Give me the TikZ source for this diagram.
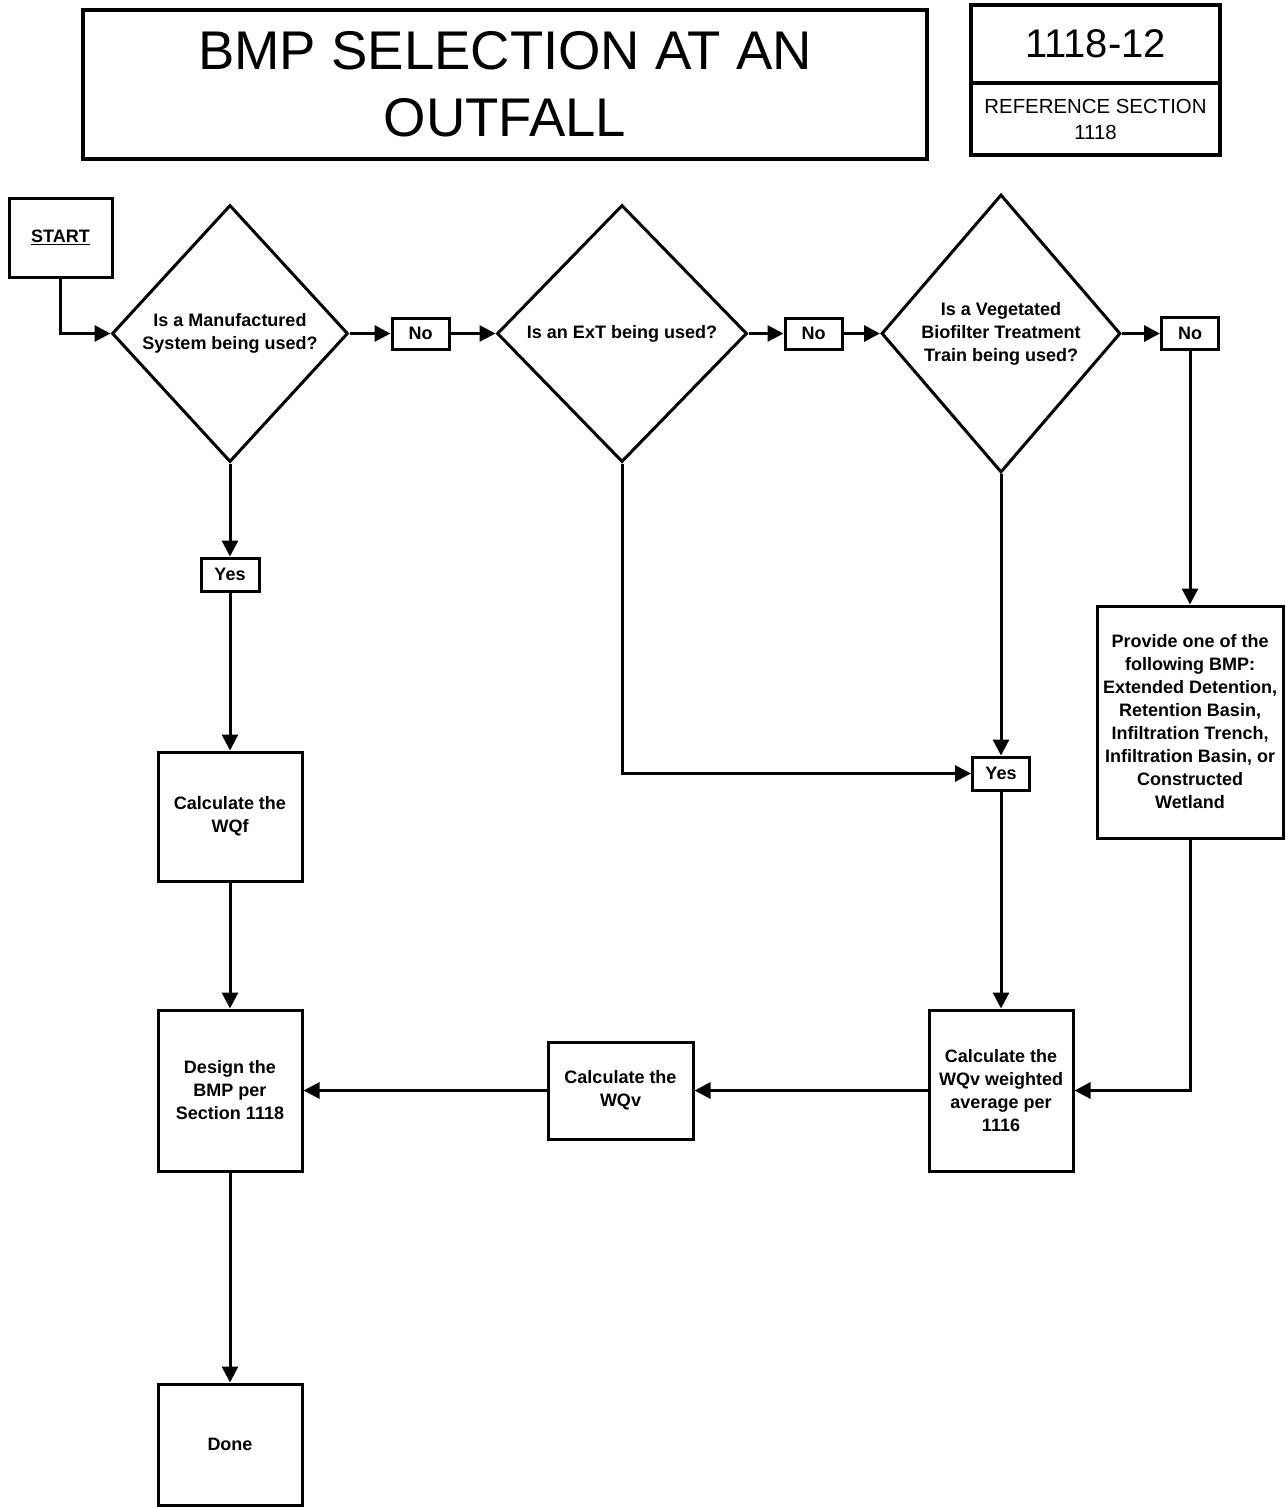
\documentclass[tikz,border=0pt]{standalone}
\usepackage{fontspec}
\setmainfont{Liberation Sans}
\usetikzlibrary{shapes.geometric,arrows.meta}

\begin{document}
\begin{tikzpicture}[x=1pt,y=-1pt,
  every node/.style={align=center, inner sep=0pt},
  txt/.style={font=\bfseries\fontsize{18}{23}\selectfont},
  proc/.style={txt, draw, line width=3pt, rectangle},
  decision/.style={txt, draw, line width=3pt, diamond},
  frame/.style={draw, line width=4pt, rectangle},
  conn/.style={line width=3pt, -{Triangle[length=16pt,width=16pt]}},
]
\useasboundingbox (0,0) rectangle (1285,1507);

% title block
\node[frame, minimum width=844, minimum height=149,
      font=\fontsize{54.5}{67}\selectfont] (title) at (505,84.5)
      {BMP SELECTION AT AN\\OUTFALL};
\node[frame, minimum width=249, minimum height=78,
      font=\fontsize{40}{48}\selectfont] (sheet) at (1095.5,44) {1118-12};
\node[frame, minimum width=249, minimum height=72,
      font=\fontsize{20.4}{26}\selectfont] (refsec) at (1095.5,119)
      {REFERENCE SECTION\\1118};

% flowchart nodes
\node[proc, minimum width=103, minimum height=79] (start) at (60.5,237.5) {\underline{START}};
\node[decision, minimum width=236, minimum height=257] (d1) at (230,333.5)
      {Is a Manufactured\\System being used?};
\node[proc, minimum width=57, minimum height=31] (no1) at (420.5,333.5) {No};
\node[decision, minimum width=250, minimum height=257] (d2) at (622,333.5)
      {Is an ExT being used?};
\node[proc, minimum width=57, minimum height=31] (no2) at (813.5,333.5) {No};
\node[decision, minimum width=239, minimum height=278] (d3) at (1001,333.5)
      {Is a Vegetated\\Biofilter Treatment\\Train being used?};
\node[proc, minimum width=57, minimum height=32] (no3) at (1190,333.5) {No};
\node[proc, minimum width=186, minimum height=232] (provide) at (1190,722)
      {Provide one of the\\following BMP:\\Extended Detention,\\Retention Basin,\\Infiltration Trench,\\Infiltration Basin, or\\Constructed\\Wetland};

\node[proc, minimum width=58, minimum height=33] (yes1) at (230,574.5) {Yes};
\node[proc, minimum width=144, minimum height=129] (wqf) at (230,816.5)
      {Calculate the\\WQf};
\node[proc, minimum width=144, minimum height=161] (design) at (230,1090.5)
      {Design the\\BMP per\\Section 1118};
\node[proc, minimum width=144, minimum height=121] (done) at (230,1444.5) {Done};

\node[proc, minimum width=57, minimum height=33] (yes2) at (1001,773.5) {Yes};
\node[proc, minimum width=144, minimum height=161] (weighted) at (1001,1090.5)
      {Calculate the\\WQv weighted\\average per\\1116};
\node[proc, minimum width=145, minimum height=97] (wqv) at (620.5,1090.5)
      {Calculate the\\WQv};

% connectors
\draw[conn] (start.south) |- (d1.west);
\draw[conn] (d1.east) -- (no1.west);
\draw[conn] (no1.east) -- (d2.west);
\draw[conn] (d2.east) -- (no2.west);
\draw[conn] (no2.east) -- (d3.west);
\draw[conn] (d3.east) -- (no3.west);
\draw[conn] (no3.south) -- (provide.north);

\draw[conn] (d1.south) -- (yes1.north);
\draw[conn] (yes1.south) -- (wqf.north);
\draw[conn] (wqf.south) -- (design.north);
\draw[conn] (design.south) -- (done.north);

\draw[conn] (d2.south) |- (yes2.west);
\draw[conn] (d3.south) -- (yes2.north);
\draw[conn] (yes2.south) -- (weighted.north);
\draw[conn] (provide.south) |- (weighted.east);
\draw[conn] (weighted.west) -- (wqv.east);
\draw[conn] (wqv.west) -- (design.east);
\end{tikzpicture}
\end{document}
